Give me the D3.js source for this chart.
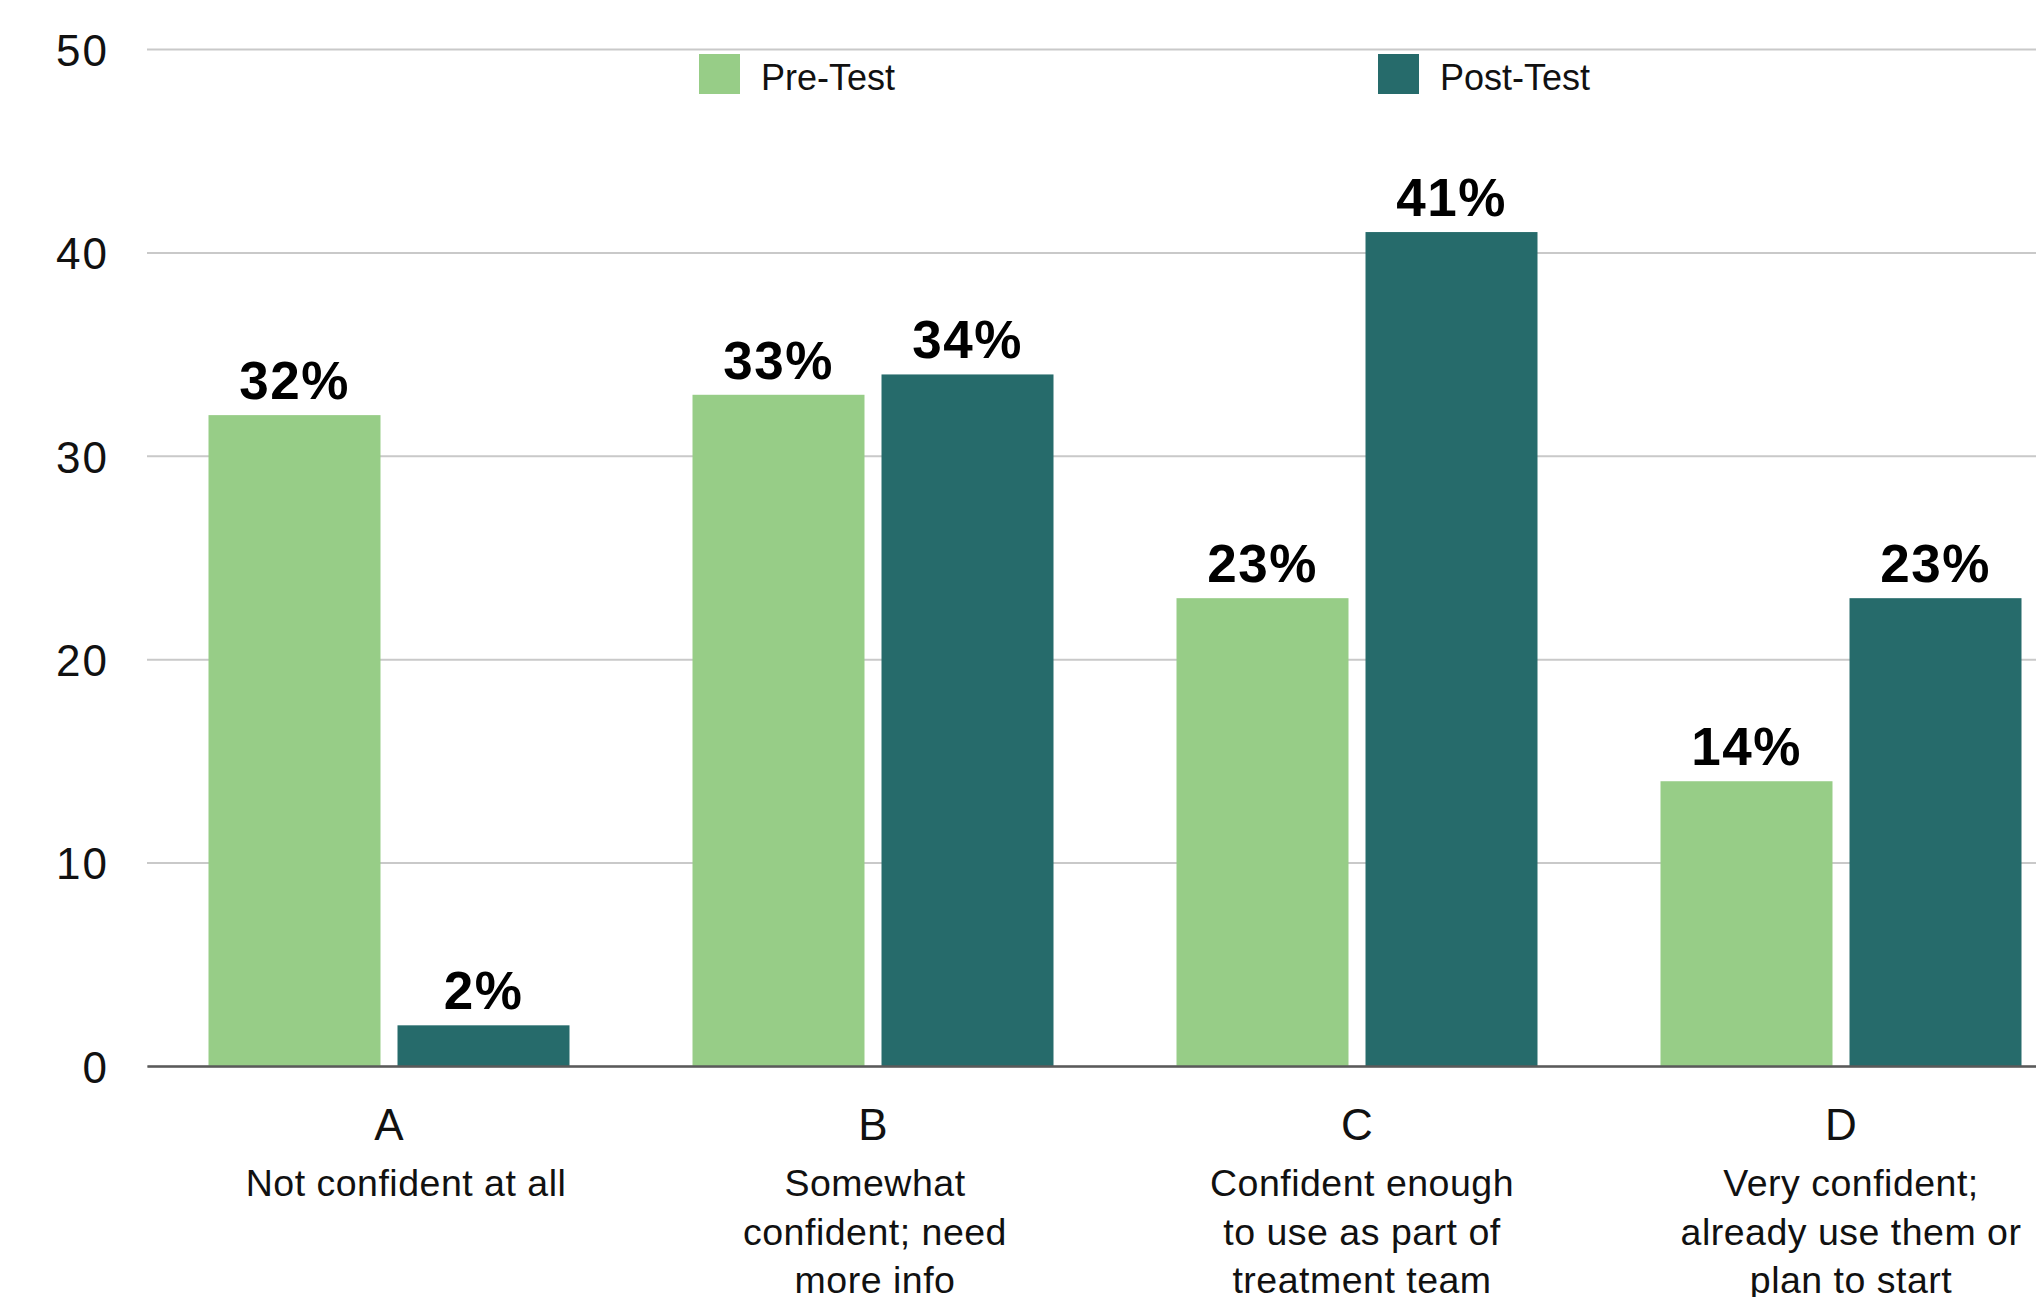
<!DOCTYPE html>
<html>
<head>
<meta charset="utf-8">
<script src="https://cdn.jsdelivr.net/npm/d3@7"></script>
<style>
  html, body { margin: 0; padding: 0; background: #ffffff; overflow: hidden; }
  svg { display: block; font-family: "Liberation Sans", Arial, sans-serif; }
</style>
</head>
<body>
<svg id="chart" width="2036" height="1297"></svg>
<script>
// ---- data ----
const categories = ["A", "B", "C", "D"];
const descriptions = [
  ["Not confident at all"],
  ["Somewhat", "confident; need", "more info"],
  ["Confident enough", "to use as part of", "treatment team"],
  ["Very confident;", "already use them or", "plan to start"]
];
const seriesNames = ["Pre-Test", "Post-Test"];
const preTest = [32, 33, 23, 14];
const postTest = [2, 34, 41, 23];
const yTicks = [0, 10, 20, 30, 40, 50];
const colors = ["#97cd87", "#266b6b"];

// ---- layout ----
const svg = d3.select("#chart");
const plotLeft = 147, plotRight = 2083, plotTop = 49, plotBottom = 1066;
const descShift = [17, 2, 5, 10]; // small horizontal nudges of the description text

const x0 = d3.scaleBand().domain(categories).range([plotLeft, plotRight]).paddingInner(0).paddingOuter(0);
const x1 = d3.scaleBand().domain(seriesNames).range([61.5, x0.bandwidth() - 61.5]).paddingInner(0.09).paddingOuter(0);
const y = d3.scaleLinear().domain([0, 50]).range([plotBottom, plotTop]);

// gridlines + y labels
const yAxis = d3.axisLeft(y).tickValues(yTicks).tickSize(-(plotRight - plotLeft)).tickPadding(38);
const gy = svg.append("g").attr("transform", `translate(${plotLeft},0)`).call(yAxis);
gy.select(".domain").remove();
gy.selectAll(".tick line").attr("stroke", "#c9c9c9").attr("stroke-width", 2);
gy.selectAll(".tick text")
  .attr("font-size", 44).attr("letter-spacing", 2).attr("fill", "#111")
  .attr("font-family", "Liberation Sans, Arial, sans-serif")
  .attr("dy", "0.37em");

// bars
const data = categories.map((c, i) => ({ cat: c, values: [preTest[i], postTest[i]] }));
const groups = svg.append("g").selectAll("g").data(data).join("g")
  .attr("transform", d => `translate(${x0(d.cat)},0)`);

groups.selectAll("rect").data(d => d.values.map((v, j) => ({ s: seriesNames[j], v, j })))
  .join("rect")
  .attr("x", d => x1(d.s))
  .attr("width", x1.bandwidth())
  .attr("y", d => y(d.v))
  .attr("height", d => y(0) - y(d.v))
  .attr("fill", d => colors[d.j]);

groups.selectAll("text.val").data(d => d.values.map((v, j) => ({ s: seriesNames[j], v, j })))
  .join("text")
  .attr("class", "val")
  .attr("x", d => x1(d.s) + x1.bandwidth() / 2)
  .attr("y", d => y(d.v) - 16)
  .attr("text-anchor", "middle")
  .attr("font-size", 53)
  .attr("letter-spacing", 1.5)
  .attr("font-weight", "bold")
  .attr("fill", "#000")
  .text(d => d.v + "%");

// x axis
const xAxis = d3.axisBottom(x0).tickSize(0).tickPadding(0);
const gx = svg.append("g").attr("transform", `translate(0,${plotBottom})`).call(xAxis);
gx.select(".domain").attr("stroke", "#5a5a5a").attr("stroke-width", 2.5);
gx.selectAll(".tick text").remove();
gx.selectAll(".tick").each(function (d, i) {
  const t = d3.select(this).append("text")
    .attr("text-anchor", "middle")
    .attr("fill", "#111")
    .attr("font-family", "Liberation Sans, Arial, sans-serif");
  t.append("tspan").attr("x", 0).attr("y", 74).attr("font-size", 44).text(d);
  descriptions[i].forEach((line, k) => {
    t.append("tspan").attr("x", descShift[i]).attr("y", 130 + k * 48.5)
      .attr("font-size", 37.5).attr("letter-spacing", 0.5).text(line);
  });
});

// legend
const legendX = [699, 1378];
const legend = svg.append("g").selectAll("g").data(seriesNames).join("g")
  .attr("transform", (d, i) => `translate(${legendX[i]},54)`);
legend.append("rect").attr("width", 41).attr("height", 40).attr("fill", (d, i) => colors[i]);
legend.append("text").attr("x", 62).attr("y", 36).attr("font-size", 36).attr("fill", "#111").text(d => d);
</script>
</body>
</html>
